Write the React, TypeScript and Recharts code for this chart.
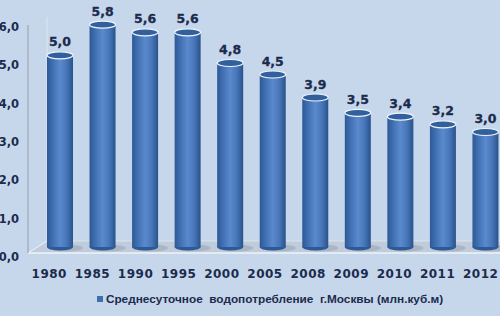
import React from 'react';
import { BarChart, Bar, XAxis, YAxis, LabelList, Customized } from 'recharts';

const years = ['1980', '1985', '1990', '1995', '2000', '2005', '2008', '2009', '2010', '2011', '2012'];
const consumption = [5.0, 5.8, 5.6, 5.6, 4.8, 4.5, 3.9, 3.5, 3.4, 3.2, 3.0];
const yTicks = [0, 1, 2, 3, 4, 5, 6];
const seriesName = 'Среднесуточное  водопотребление  г.Москвы (млн.куб.м)';

const data = years.map((y, i) => ({ year: y, value: consumption[i] }));

const fmt = (v: number) => v.toFixed(1).replace('.', ',');

const TEXT = '#1b2b4d';
const BG = '#c7d7eb';

const Cylinder = (props: any) => {
  const { x, y, width, height } = props;
  const ry = 3.5;
  const bottom = y + height;
  const cx = x + width / 2;
  const rx = width / 2;
  return (
    <g>
      <ellipse cx={cx + 6} cy={bottom + 1} rx={rx + 4} ry={ry} fill="#9aa6b6" opacity={0.6} />
      <ellipse cx={cx} cy={bottom} rx={rx} ry={ry} fill="#2d5a96" />
      <rect x={x} y={y} width={width} height={height} fill="url(#cylGrad)" />
      <ellipse cx={cx} cy={y} rx={rx} ry={ry} fill="#31609c" stroke="#eef4fb" strokeWidth={1.2} />
    </g>
  );
};

const YTick = (props: any) => {
  const { y, payload } = props;
  return (
    <text x={19} y={y + 10} dy={4} textAnchor="end" fill={TEXT} fontSize={11.5} fontWeight="bold" fontFamily="DejaVu Sans, sans-serif">
      {fmt(payload.value)}
    </text>
  );
};

const XTick = (props: any) => {
  const { x, payload, index } = props;
  const i = typeof index === 'number' ? index : 0;
  return (
    <text x={x - 11 + i * 0.6} y={278} textAnchor="middle" fill={TEXT} fontSize={12} fontWeight="bold" fontFamily="DejaVu Sans, sans-serif" letterSpacing={0.5}>
      {payload.value}
    </text>
  );
};

const Floor = () => {
  const left = 28;
  const backX = 47;
  const backY = 241;
  const frontY = 253;
  const right = 520;
  const top = 25;
  return (
    <g>
      <polygon points={`${left},${frontY} ${backX},${backY} ${right},${backY} ${right},${frontY}`} fill="#c0ccdb" />
      <line x1={left} y1={frontY} x2={right} y2={frontY} stroke="#eef3f9" strokeWidth={1.5} />
      <line x1={left} y1={frontY} x2={backX} y2={backY} stroke="#eef3f9" strokeWidth={1} />
      <line x1={backX} y1={backY} x2={right} y2={backY} stroke="#d9e3ef" strokeWidth={1} />
      <line x1={left} y1={top} x2={left} y2={frontY} stroke="#9aa7b8" strokeWidth={1.2} />
      <line x1={backX} y1={top - 8} x2={backX} y2={backY} stroke="#dce6f2" strokeWidth={1} />
    </g>
  );
};

const ValueLabel = (props: any) => {
  const { x, y, width, value } = props;
  return (
    <text x={x + width / 2} y={y - 9} textAnchor="middle" fill={TEXT} fontSize={12.5} fontWeight="bold" fontFamily="DejaVu Sans, sans-serif" stroke={TEXT} strokeWidth={0.3}>
      {fmt(value)}
    </text>
  );
};

export default function App() {
  return (
    <div style={{ position: 'absolute', left: 0, top: 0, width: 500, height: 316, overflow: 'hidden', background: BG }}>
      <BarChart width={507} height={316} data={data} margin={{ top: 17, right: 0, left: 0, bottom: 39 }}>
        <defs>
          <linearGradient id="cylGrad" x1="0" y1="0" x2="1" y2="0">
            <stop offset="0" stopColor="#2c5894" />
            <stop offset="0.2" stopColor="#3f6eb0" />
            <stop offset="0.5" stopColor="#5a8acd" />
            <stop offset="0.75" stopColor="#4877b9" />
            <stop offset="1" stopColor="#29528c" />
          </linearGradient>
        </defs>
        <Customized component={Floor} />
        <YAxis width={39} domain={[0, 6]} ticks={yTicks} axisLine={false} tickLine={false} tick={<YTick />} interval={0} />
        <XAxis dataKey="year" height={30} axisLine={false} tickLine={false} tick={<XTick />} interval={0} />
        <Bar dataKey="value" name={seriesName} barSize={26} shape={<Cylinder />} isAnimationActive={false}>
          <LabelList dataKey="value" content={<ValueLabel />} />
        </Bar>
      </BarChart>
      <div style={{ position: 'absolute', left: 0, top: 292, width: 500, display: 'flex', alignItems: 'center', justifyContent: 'center', fontFamily: 'Liberation Sans, Arial, sans-serif', fontWeight: 'bold', fontSize: 11.8, color: TEXT, whiteSpace: 'pre', paddingLeft: 40, boxSizing: 'border-box' }}>
        <span style={{ display: 'inline-block', width: 6, height: 6, background: '#3f6eae', marginRight: 3 }} />
        {seriesName}
      </div>
    </div>
  );
}
